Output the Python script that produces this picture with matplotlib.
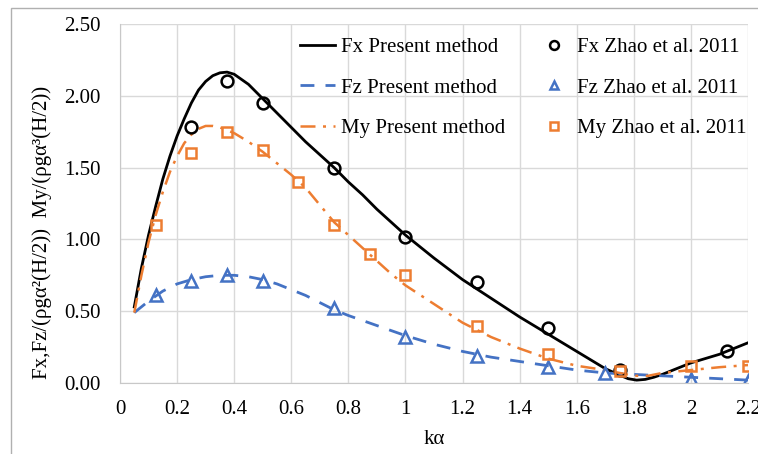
import numpy as np
import matplotlib.pyplot as plt
from matplotlib.patches import Rectangle

# Present method curves
fx_x = [0.05, 0.075, 0.10, 0.125, 0.15, 0.175, 0.20, 0.225, 0.25, 0.275, 0.30, 0.325,
        0.35, 0.375, 0.40, 0.45, 0.50, 0.55, 0.60, 0.65, 0.70, 0.75, 0.80, 0.85, 0.90,
        0.95, 1.00, 1.10, 1.20, 1.30, 1.40, 1.50, 1.60, 1.70, 1.75, 1.78, 1.81, 1.84,
        1.87, 1.90, 1.95, 2.00, 2.05, 2.10, 2.15, 2.20]
fx_y = [0.53, 0.80, 1.03, 1.23, 1.42, 1.58, 1.72, 1.84, 1.95, 2.04, 2.10, 2.14,
        2.16, 2.165, 2.15, 2.08, 1.98, 1.88, 1.78, 1.68, 1.59, 1.50, 1.40, 1.31, 1.21,
        1.12, 1.03, 0.87, 0.72, 0.59, 0.46, 0.34, 0.22, 0.10, 0.055, 0.03, 0.02, 0.025,
        0.04, 0.06, 0.10, 0.14, 0.17, 0.20, 0.24, 0.28]

fz_x = [0.05, 0.10, 0.15, 0.20, 0.25, 0.30, 0.35, 0.40, 0.45, 0.50, 0.55, 0.60, 0.65,
        0.70, 0.75, 0.80, 0.90, 1.00, 1.10, 1.20, 1.30, 1.40, 1.50, 1.60, 1.70, 1.80,
        1.90, 2.00, 2.10, 2.20]
fz_y = [0.49, 0.57, 0.64, 0.69, 0.72, 0.74, 0.75, 0.75, 0.74, 0.72, 0.69, 0.65, 0.61,
        0.56, 0.51, 0.47, 0.40, 0.33, 0.27, 0.22, 0.18, 0.15, 0.12, 0.09, 0.07, 0.06,
        0.05, 0.04, 0.03, 0.02]

my_x = [0.05, 0.075, 0.10, 0.125, 0.15, 0.175, 0.20, 0.225, 0.25, 0.275, 0.30, 0.325,
        0.35, 0.40, 0.45, 0.50, 0.55, 0.60, 0.65, 0.70, 0.75, 0.80, 0.85, 0.90, 0.95,
        1.00, 1.10, 1.20, 1.30, 1.40, 1.50, 1.60, 1.70, 1.75, 1.80, 1.85, 1.90, 2.00,
        2.10, 2.20]
my_y = [0.49, 0.75, 0.98, 1.17, 1.33, 1.47, 1.58, 1.67, 1.73, 1.77, 1.79, 1.79,
        1.78, 1.74, 1.68, 1.61, 1.53, 1.45, 1.36, 1.24, 1.12, 1.03, 0.94, 0.85, 0.76,
        0.68, 0.55, 0.42, 0.32, 0.24, 0.17, 0.12, 0.09, 0.07, 0.05, 0.05, 0.07, 0.09,
        0.11, 0.125]

# Zhao et al. 2011
zfx_x = [0.25, 0.375, 0.5, 0.75, 1.0, 1.25, 1.5, 1.75, 2.125]
zfx_y = [1.78, 2.10, 1.95, 1.50, 1.02, 0.70, 0.38, 0.09, 0.22]

zfz_x = [0.125, 0.25, 0.375, 0.5, 0.75, 1.0, 1.25, 1.5, 1.7, 2.0, 2.2]
zfz_y = [0.61, 0.71, 0.75, 0.71, 0.52, 0.32, 0.19, 0.11, 0.07, 0.03, 0.015]

zmy_x = [0.125, 0.25, 0.375, 0.5, 0.625, 0.75, 0.875, 1.0, 1.25, 1.5, 1.75, 2.0, 2.2]
zmy_y = [1.10, 1.60, 1.75, 1.62, 1.40, 1.10, 0.90, 0.75, 0.40, 0.20, 0.085, 0.12, 0.12]

BLUE = '#4472C4'
ORANGE = '#ED7D31'

plt.rcParams['font.family'] = ['Liberation Serif', 'DejaVu Serif']

fig = plt.figure(figsize=(7.58, 4.54), dpi=100)
ax = fig.add_axes([120 / 758, 71 / 454, 628 / 758, 359 / 454])

# chart area border (cropped Excel frame)
fig.patches.append(Rectangle((11 / 758, -0.1), 1.2, (454 - 8) / 454 + 0.1,
                             transform=fig.transFigure, fill=False,
                             edgecolor='#b0b0b0', lw=1.0))

l1, = ax.plot(fx_x, fx_y, color='black', lw=2.0, label='Fx Present method')
l2, = ax.plot(fz_x, fz_y, color=BLUE, lw=2.0, dashes=(5, 4), label='Fz Present method')
l3, = ax.plot(my_x, my_y, color=ORANGE, lw=1.8, dashes=(6, 3, 1.2, 3),
              label='My Present method')

m1, = ax.plot(zfx_x, zfx_y, 'o', ms=8.5, mfc='none', mec='black', mew=1.8,
              label='Fx Zhao et al. 2011')
m2, = ax.plot(zfz_x, zfz_y, '^', ms=8.5, mfc='none', mec=BLUE, mew=1.8,
              label='Fz Zhao et al. 2011')
m3, = ax.plot(zmy_x, zmy_y, 's', ms=7.5, mfc='none', mec=ORANGE, mew=1.8,
              label='My Zhao et al. 2011')

ax.set_xlim(0, 2.2)
ax.set_ylim(0, 2.5)
ax.set_xticks(np.arange(0, 2.21, 0.2))
ax.set_xticklabels(['0', '0.2', '0.4', '0.6', '0.8', '1', '1.2', '1.4', '1.6',
                    '1.8', '2', '2.2'])
ax.set_yticks(np.arange(0, 2.51, 0.5))
ax.set_yticklabels(['%.2f' % v for v in np.arange(0, 2.51, 0.5)])
ax.tick_params(axis='y', length=0, labelsize=15, pad=14)
ax.tick_params(axis='x', length=0, labelsize=15, pad=12)

ax.grid(True, color='#d9d9d9', lw=1.0)
ax.set_axisbelow(True)
for s in ['top', 'right']:
    ax.spines[s].set_visible(False)
for s in ['left', 'bottom']:
    ax.spines[s].set_color('#c8c8c8')

ax.set_xlabel('kα', fontsize=15, labelpad=8)
fig.text(42 / 758, 1 - 232 / 454, 'Fx,Fz/(ρgα²(H/2))  My/(ρgα³(H/2))',
         fontsize=15, rotation=90, ha='center', va='center')

ax.legend(handles=[l1, l2, l3, m1, m2, m3], ncol=2, frameon=False, fontsize=15,
          loc='upper left', bbox_to_anchor=(180 / 628, 0.962), borderpad=0,
          borderaxespad=0, handlelength=1.7, handletextpad=0.25,
          columnspacing=1.5, labelspacing=1.0, markerscale=0.75)

fig.savefig('out.png', dpi=100)
